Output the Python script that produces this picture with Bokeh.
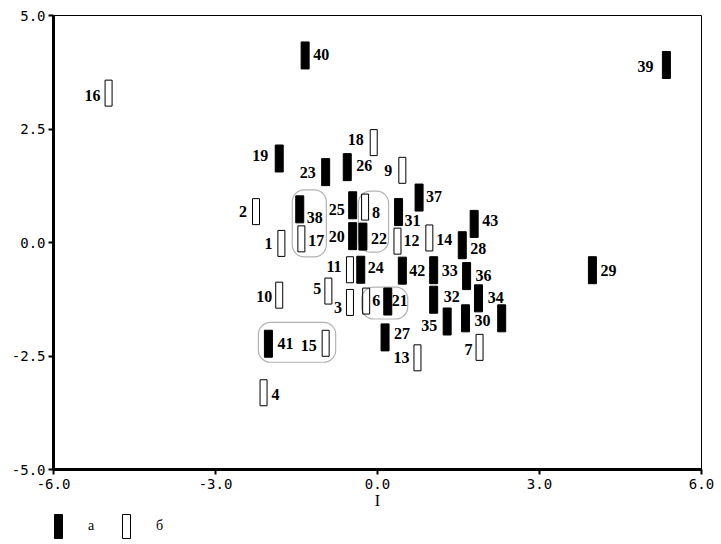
from bokeh.plotting import figure
from bokeh.layouts import column
from bokeh.models import (ColumnDataSource, FixedTicker, PrintfTickFormatter,
                          BoxAnnotation, Legend, LegendItem, Range1d)
from bokeh.core.properties import value
from bokeh.embed import file_html
from bokeh.resources import INLINE

# ---------------- data ----------------
labels = [str(i) for i in range(1, 44)] + [""]
x_vals = [-1.78, -2.25, -0.51, -2.11, -0.91, -0.21, 1.89, -0.23, 0.46, -1.82,
          -0.51, 0.37, 0.74, 0.96, -0.96, -4.98, -1.41, -0.07, -1.82, -0.46,
          0.19, -0.27, -0.96, -0.31, -0.46, -0.56, 0.14, 1.57, 3.98, 1.63,
          0.39, 1.04, 1.04, 2.30, 1.29, 1.65, 0.77, -1.44, 5.35, -1.34,
          -2.02, 0.46, 1.79, 1.87]
y_vals = [-0.02, 0.68, -1.32, -3.31, -1.07, -1.29, -2.31, 0.78, 1.59, -1.16,
          -0.60, 0.03, -2.54, 0.10, -2.22, 3.29, 0.08, 2.20, 1.85, 0.14,
          -1.30, 0.13, 1.55, -0.60, 0.82, 1.66, -2.09, -0.06, -0.61, -1.67,
          0.67, -1.26, -0.61, -1.67, -1.74, -0.74, 0.99, 0.73, 3.91, 4.12,
          -2.23, -0.62, 0.41, -1.23]
group = ["б"] * 18 + ["а"] * 26          # а = filled, б = hollow
legend_labels = ["а", "б"]
x_ticks = [-6, -3, 0, 3, 6]
y_ticks = [-5, -2.5, 0, 2.5, 5]
circled_groups = [["38", "17"], ["8", "22"], ["6", "21"], ["41", "15"]]

# ---------------- layout (label offsets in screen px) ----------------
label_dx = [-13, -13, -12, 12, -11, 10, -11, 11, -14, -15,
            -16, 14, -16, 15, -17, -16, 15, -18, -19, -16,
            12, 16, -18, 15, -16, 17, 17, 16, 16, 17,
            14, 18, 16, -6, -18, 17, 15, 15, -21, 16,
            17, 15, 16, 0]
label_dy = [0, 0, 5, 2, -3, -1, 2, 5, 0, 1,
            -3, -1, 0, 2, 2, 2, 2, -3, -3, 0,
            -1, 2, 0, -2, 4, -2, -4, 3, 0, 2,
            8, -3, 0, -21, 4, -1, -1, 8, 2, -1,
            0, 0, -3, 0]
# padding (left, right, top, bottom) in px around the bars of each circled group
group_pads = [(3.5, 21, 6, 4.5), (0.5, 19.5, 2.5, 2), (0.5, 16, 0.5, 4), (6, 6, 7.5, 5)]

FW, FH = 648, 454
BL, BR, BT = 53, 14, 15
XR, YR = (-6, 6), (-5, 5)
BAR_W, BAR_H = 8, 27

p = figure(frame_width=FW, frame_height=FH,
           x_range=Range1d(*XR), y_range=Range1d(*YR),
           output_backend="svg", toolbar_location=None,
           min_border_left=BL, min_border_top=BT, min_border_right=BR,
           min_border_bottom=0)
p.xgrid.visible = False
p.ygrid.visible = False
p.outline_line_color = "black"
p.outline_line_width = 1

def split(kind):
    idx = [i for i, g in enumerate(group) if g == kind]
    return ColumnDataSource(dict(x=[x_vals[i] for i in idx],
                                 y=[y_vals[i] for i in idx]))

src_a = split("а")
src_b = split("б")
style_a = dict(fill_color="black", line_color="black", line_width=1)
style_b = dict(fill_color="white", line_color="black", line_width=1)
p.rect("x", "y", width=BAR_W, height=BAR_H, width_units="screen",
       height_units="screen", source=src_a, **style_a)
p.rect("x", "y", width=BAR_W - 1, height=BAR_H - 1, width_units="screen",
       height_units="screen", source=src_b, **style_b)

tsrc = ColumnDataSource(dict(x=x_vals, y=y_vals, t=labels, dx=label_dx, dy=label_dy))
p.text("x", "y", text="t", x_offset="dx", y_offset="dy", source=tsrc,
       text_align="center", text_baseline="middle",
       text_font=value("Liberation Serif"), text_font_style="bold",
       text_font_size="16px", text_color="black")

# circled groups
ux = FW / (XR[1] - XR[0])
uy = FH / (YR[1] - YR[0])
for members, (pl, pr, pt, pb) in zip(circled_groups, group_pads):
    idx = [labels.index(m) for m in members]
    gx = [x_vals[i] for i in idx]
    gy = [y_vals[i] for i in idx]
    left = min(gx) - (BAR_W / 2 + pl) / ux
    right = max(gx) + (BAR_W / 2 + pr) / ux
    top = max(gy) + (BAR_H / 2 + pt) / uy
    bottom = min(gy) - (BAR_H / 2 + pb) / uy
    p.add_layout(BoxAnnotation(left=left, right=right, top=top, bottom=bottom,
                               fill_alpha=0, line_color="black", line_width=1.2,
                               border_radius=12))

for ax, ticks in ((p.xaxis, x_ticks), (p.yaxis, y_ticks)):
    ax.ticker = FixedTicker(ticks=ticks)
    ax.formatter = PrintfTickFormatter(format="%.1f")
    ax.axis_line_width = 3
    ax.axis_line_color = "black"
    ax.major_tick_line_width = 2
    ax.major_tick_line_color = "black"
    ax.major_tick_in = 0
    ax.major_tick_out = 5
    ax.minor_tick_line_color = None
    ax.major_label_text_font = "DejaVu Sans Mono"
    ax.major_label_text_font_size = "14px"
    ax.major_label_text_color = "black"
    ax.major_label_standoff = 3
p.xaxis.major_label_standoff = 4

p.xaxis.axis_label = "I"
p.xaxis.axis_label_text_font = "Liberation Serif"
p.xaxis.axis_label_text_font_style = "normal"
p.xaxis.axis_label_text_font_size = "16px"
p.xaxis.axis_label_text_color = "black"
p.xaxis.axis_label_standoff = 0

# ---------------- legend strip below the chart ----------------
LEG_H = 30
p2 = figure(width=BL + FW + BR, height=LEG_H, x_range=Range1d(*XR),
            y_range=Range1d(*YR), x_axis_type=None, y_axis_type=None,
            output_backend="svg", toolbar_location=None,
            min_border_left=0, min_border_right=0, min_border_top=0,
            min_border_bottom=0)
p2.outline_line_color = None
p2.xgrid.visible = False
p2.ygrid.visible = False
la = p2.rect("x", "y", width=BAR_W, height=BAR_H, width_units="screen",
             height_units="screen", source=src_a, visible=False, **style_a)
lb = p2.rect("x", "y", width=BAR_W, height=BAR_H, width_units="screen",
             height_units="screen", source=src_b, visible=False, **style_b)

legend = Legend(items=[LegendItem(label=legend_labels[0], renderers=[la]),
                       LegendItem(label=legend_labels[1], renderers=[lb])],
                orientation="horizontal", location=(0, 0),
                glyph_width=10, glyph_height=LEG_H, label_standoff=25, spacing=13,
                padding=0, margin=0, border_line_alpha=0,
                background_fill_alpha=0, inactive_fill_alpha=0,
                label_text_color="black",
                label_text_font="Liberation Serif", label_text_font_size="14px")
p2.add_layout(legend)

layout = column(p, p2, spacing=0)
open("out.html", "w").write(file_html(layout, INLINE))
